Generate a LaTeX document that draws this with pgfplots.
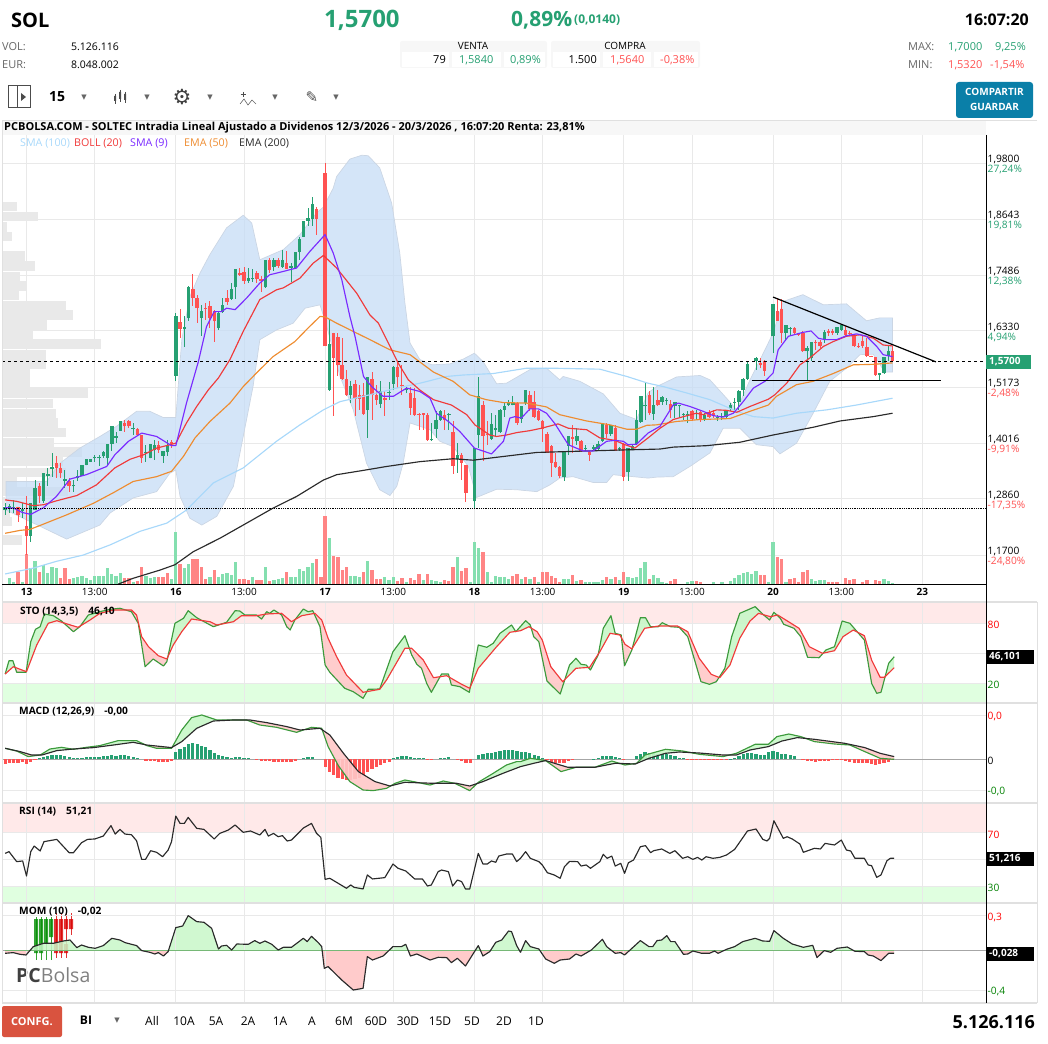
\documentclass[border=0pt]{standalone}
\usepackage{fontspec}
\setmainfont{Open Sans}
\newfontfamily\sym{DejaVu Sans}
\usepackage{pgfplots}
\usepackage{pgfplotstable}
\pgfplotsset{compat=1.18}
\definecolor{cg}{HTML}{26A072}
\definecolor{cr}{HTML}{FF5252}
\definecolor{vg}{HTML}{84DFAF}
\definecolor{vr}{HTML}{FF8585}
\definecolor{gridc}{HTML}{E9E9E9}
\definecolor{band}{HTML}{C6DCF6}
\definecolor{bandl}{HTML}{CBD6E4}
\definecolor{prof}{HTML}{E9E9E9}
\definecolor{sma100}{HTML}{A8D8FA}
\definecolor{boll}{HTML}{F03A3A}
\definecolor{sma9}{HTML}{7A2BFF}
\definecolor{ema50}{HTML}{EE8C30}
\definecolor{ema200}{HTML}{2A2A2A}
\definecolor{pinkz}{HTML}{FFE9E9}
\definecolor{greenz}{HTML}{E0FFE0}
\definecolor{gf}{HTML}{C8F7C8}
\definecolor{rf}{HTML}{FFC8C8}
\definecolor{kline}{HTML}{3C9A3C}
\definecolor{gtxt}{HTML}{666666}
\definecolor{sep}{HTML}{E0E0E0}
\definecolor{btn}{HTML}{0A7FA8}
\definecolor{conf}{HTML}{D9533F}
\newcommand\T[6][west]{\node[anchor=#1,inner sep=0pt,text=#4] at (#2pt,-#3pt) {\fontsize{#5}{#5}\selectfont #6};}
\newcommand\pg[1]{\addplot[fill=gf,draw=none,fill opacity=.9,forget plot] coordinates {#1} --cycle;}
\newcommand\pr[1]{\addplot[fill=rf,draw=none,fill opacity=.9,forget plot] coordinates {#1} --cycle;}
\pgfplotsset{
 xfit/.style={scale only axis,width=984pt,xmin=-5.743,xmax=224.92},
 hid/.style={xfit,hide axis},
 panel/.style={xfit,axis line style={draw=none},major tick length=0pt,grid=major,
  grid style={line width=.9pt,color=gridc},
  xtick={0,16,35,51,70,86,105,121,140,156,175,191,210},
  ytick pos=right,yticklabel pos=right,
  yticklabel style={anchor=west,align=left,inner sep=0pt,xshift=1.5pt,yshift=-1.5pt,font=\fontsize{10.2}{10.2}\selectfont},
  xticklabel style={inner sep=0pt,yshift=-4pt,font=\fontsize{10}{10}\selectfont}},
 l/.style={line width=1.15pt,line join=round},
 bars/.style={only marks,mark size=0pt,mark options={draw=none,fill=none},forget plot},
}
\pgfplotstableread{
i h l o c
-5 1.277 1.253 1.263 1.270
-4 1.276 1.256 1.265 1.272
-3 1.284 1.256 1.267 1.269
-1 1.277 1.246 1.262 1.265
1 1.277 1.196 1.210 1.277
2 1.325 1.263 1.263 1.308
4 1.339 1.277 1.281 1.339
5 1.350 1.312 1.334 1.338
6 1.381 1.332 1.348 1.351
9 1.346 1.308 1.324 1.327
11 1.325 1.301 1.312 1.314
12 1.346 1.322 1.329 1.334
13 1.356 1.334 1.334 1.356
14 1.368 1.356 1.356 1.368
15 1.369 1.363 1.363 1.369
16 1.377 1.363 1.370 1.372
17 1.377 1.353 1.370 1.372
18 1.384 1.370 1.374 1.382
19 1.400 1.353 1.370 1.400
20 1.437 1.384 1.400 1.437
21 1.425 1.401 1.412 1.415
22 1.447 1.427 1.427 1.447
25 1.443 1.418 1.430 1.432
28 1.398 1.363 1.381 1.383
29 1.400 1.370 1.370 1.400
30 1.408 1.367 1.387 1.398
32 1.385 1.360 1.375 1.385
33 1.408 1.374 1.382 1.398
35 1.670 1.529 1.540 1.664
37 1.663 1.600 1.638 1.641
38 1.725 1.653 1.660 1.724
41 1.687 1.622 1.660 1.675
45 1.673 1.635 1.639 1.671
46 1.701 1.670 1.673 1.687
48 1.732 1.698 1.700 1.720
49 1.762 1.700 1.723 1.762
52 1.763 1.732 1.737 1.743
53 1.760 1.735 1.740 1.742
56 1.780 1.722 1.723 1.780
58 1.784 1.756 1.765 1.780
60 1.801 1.763 1.765 1.780
62 1.773 1.735 1.764 1.768
63 1.797 1.760 1.763 1.797
64 1.828 1.780 1.796 1.822
65 1.861 1.828 1.828 1.861
66 1.887 1.849 1.861 1.867
67 1.910 1.849 1.865 1.896
71 1.656 1.510 1.512 1.607
76 1.529 1.484 1.501 1.520
80 1.537 1.412 1.470 1.537
83 1.529 1.474 1.482 1.508
85 1.527 1.491 1.505 1.507
86 1.560 1.511 1.524 1.558
89 1.518 1.505 1.510 1.513
95 1.443 1.405 1.407 1.410
96 1.467 1.412 1.431 1.450
97 1.470 1.446 1.450 1.468
99 1.463 1.429 1.459 1.462
101 1.401 1.339 1.369 1.377
105 1.391 1.268 1.281 1.391
106 1.538 1.391 1.419 1.499
109 1.463 1.408 1.410 1.441
110 1.460 1.415 1.429 1.432
111 1.472 1.422 1.425 1.470
112 1.484 1.456 1.470 1.478
113 1.490 1.477 1.480 1.486
114 1.499 1.479 1.479 1.484
116 1.477 1.443 1.451 1.477
117 1.511 1.481 1.484 1.511
126 1.385 1.322 1.332 1.385
127 1.416 1.377 1.396 1.416
129 1.432 1.398 1.405 1.416
131 1.398 1.384 1.390 1.392
133 1.398 1.384 1.389 1.394
134 1.405 1.387 1.390 1.400
135 1.443 1.403 1.406 1.441
137 1.439 1.415 1.421 1.438
139 1.394 1.384 1.390 1.392
141 1.391 1.324 1.341 1.391
142 1.398 1.387 1.387 1.396
143 1.470 1.398 1.399 1.450
144 1.499 1.443 1.445 1.499
145 1.527 1.450 1.477 1.480
147 1.518 1.450 1.462 1.480
149 1.499 1.480 1.487 1.496
150 1.494 1.480 1.489 1.491
152 1.487 1.453 1.478 1.486
153 1.480 1.453 1.477 1.479
154 1.463 1.450 1.460 1.462
155 1.467 1.443 1.459 1.462
157 1.470 1.450 1.462 1.464
159 1.463 1.446 1.451 1.460
162 1.460 1.447 1.453 1.455
163 1.463 1.450 1.456 1.458
164 1.470 1.453 1.456 1.469
165 1.485 1.467 1.471 1.480
166 1.494 1.470 1.485 1.487
167 1.511 1.470 1.487 1.509
168 1.536 1.498 1.511 1.534
169 1.570 1.532 1.534 1.565
171 1.580 1.553 1.571 1.578
175 1.689 1.587 1.622 1.689
178 1.646 1.615 1.629 1.646
179 1.641 1.622 1.638 1.640
183 1.601 1.531 1.591 1.598
184 1.611 1.570 1.577 1.611
187 1.635 1.608 1.615 1.631
190 1.642 1.625 1.629 1.642
191 1.648 1.632 1.635 1.646
200 1.547 1.532 1.542 1.546
201 1.579 1.545 1.546 1.579
202 1.601 1.570 1.582 1.592
}\up
\pgfplotstableread{
i h l o c
-2 1.270 1.239 1.270 1.253
0 1.291 1.170 1.230 1.210
3 1.319 1.277 1.313 1.291
7 1.374 1.329 1.360 1.350
8 1.360 1.329 1.350 1.339
10 1.329 1.301 1.322 1.312
23 1.450 1.425 1.443 1.436
24 1.450 1.432 1.446 1.436
26 1.432 1.418 1.430 1.418
27 1.418 1.361 1.418 1.370
31 1.405 1.380 1.398 1.387
34 1.408 1.391 1.403 1.399
36 1.678 1.618 1.651 1.638
39 1.751 1.684 1.720 1.702
40 1.708 1.649 1.702 1.680
42 1.691 1.656 1.681 1.679
43 1.694 1.639 1.685 1.660
44 1.677 1.611 1.675 1.653
47 1.718 1.687 1.702 1.693
50 1.763 1.746 1.752 1.749
51 1.766 1.729 1.755 1.737
54 1.756 1.732 1.752 1.741
55 1.746 1.713 1.740 1.737
57 1.784 1.753 1.780 1.758
59 1.784 1.763 1.780 1.768
61 1.799 1.760 1.773 1.762
68 1.889 1.832 1.884 1.865
70 1.980 1.601 1.959 1.601
72 1.629 1.458 1.629 1.578
73 1.629 1.540 1.620 1.562
74 1.618 1.532 1.563 1.534
75 1.553 1.498 1.534 1.501
77 1.532 1.458 1.523 1.493
78 1.522 1.470 1.501 1.492
79 1.525 1.460 1.501 1.462
81 1.548 1.450 1.534 1.501
82 1.522 1.480 1.501 1.491
84 1.508 1.458 1.494 1.490
87 1.567 1.515 1.558 1.537
88 1.563 1.501 1.521 1.519
90 1.518 1.460 1.505 1.474
91 1.515 1.458 1.494 1.460
92 1.463 1.429 1.462 1.460
93 1.463 1.429 1.463 1.460
94 1.463 1.405 1.460 1.407
98 1.470 1.429 1.460 1.450
100 1.446 1.337 1.425 1.355
102 1.381 1.325 1.377 1.361
103 1.356 1.279 1.356 1.299
107 1.489 1.365 1.480 1.416
108 1.446 1.398 1.421 1.418
115 1.487 1.439 1.484 1.443
118 1.508 1.467 1.501 1.472
119 1.508 1.453 1.487 1.456
120 1.470 1.446 1.468 1.450
121 1.450 1.403 1.447 1.430
122 1.425 1.381 1.420 1.381
123 1.398 1.332 1.396 1.361
124 1.381 1.350 1.363 1.352
125 1.353 1.329 1.352 1.334
128 1.439 1.381 1.414 1.410
130 1.408 1.382 1.406 1.384
132 1.384 1.365 1.383 1.377
136 1.443 1.412 1.439 1.420
138 1.439 1.384 1.432 1.385
140 1.401 1.322 1.400 1.332
146 1.508 1.460 1.501 1.463
148 1.511 1.477 1.491 1.480
151 1.491 1.453 1.482 1.470
156 1.470 1.446 1.468 1.451
158 1.469 1.445 1.465 1.450
160 1.470 1.453 1.465 1.456
161 1.470 1.453 1.463 1.458
172 1.577 1.556 1.567 1.562
173 1.572 1.539 1.571 1.551
176 1.701 1.653 1.675 1.654
177 1.698 1.608 1.679 1.629
180 1.641 1.625 1.639 1.629
181 1.629 1.622 1.629 1.625
182 1.632 1.589 1.629 1.591
185 1.615 1.594 1.611 1.608
186 1.615 1.598 1.611 1.601
188 1.637 1.622 1.632 1.629
189 1.637 1.625 1.632 1.629
192 1.644 1.622 1.635 1.625
193 1.632 1.622 1.629 1.627
194 1.625 1.600 1.624 1.601
195 1.608 1.598 1.602 1.600
196 1.622 1.598 1.613 1.602
197 1.618 1.580 1.600 1.582
198 1.582 1.579 1.582 1.580
199 1.579 1.540 1.579 1.542
203 1.601 1.571 1.592 1.571
}\dn
\pgfplotstableread[row sep=crcr]{
i v\\-5 -.03\\-3.1 -.023\\-1.5 -.04\\-.1 -.047\\1.6 .037\\4 .07\\6.3 .07\\8.6 .093\\10.2 .103\\11.8 .027\\12.9 .053\\14.5 .03\\16.1 .02\\18 .047\\20 .12\\21.9 .103\\23.1 .077\\25.8 .047\\27 -.003\\28.9 -.02\\30.1 -.037\\30.9 -.023\\32.1 -.057\\33.2 -.013\\35 .227\\36.6 .243\\37.9 .347\\39.9 .287\\41.6 .28\\43.4 .22\\45 .013\\45.7 .043\\46.9 .05\\48.1 .003\\49.3 .063\\52 .06\\53.5 .097\\54.7 .07\\55.9 .093\\57.5 .06\\59 .003\\60.2 .03\\62.1 .03\\64.9 .12\\65.8 .087\\66.8 .14\\68.4 .077\\69.2 .037\\69.8 -.18\\70.7 -.163\\73.9 -.297\\76.6 -.397\\78.9 -.38\\79.9 -.063\\81.1 -.097\\83.6 -.057\\85.9 .037\\87.9 .037\\88.9 .06\\90 -.057\\91.5 -.037\\94.6 -.097\\96.5 -.07\\98.5 -.073\\99.6 -.123\\101 -.08\\102.9 -.157\\105.9 .047\\107 -.057\\108.6 -.013\\110 .08\\111.4 .103\\113 .193\\113.7 .187\\114.9 .047\\115.8 -.02\\117 .097\\118.1 .037\\120.1 .013\\121.7 -.087\\123.7 -.13\\125.1 -.097\\127.3 -.087\\128.8 -.037\\130 -.057\\132.4 .003\\135 .11\\136 .037\\138 -.03\\139.3 -.023\\140.2 -.047\\143.9 .097\\145.9 .037\\146.8 .037\\147.8 .097\\148.9 .103\\150.1 .147\\151 .087\\152 .087\\154 -.04\\155 -.037\\156.2 -.007\\158.3 -.03\\160.1 -.03\\161.3 -.007\\162.1 -.03\\164.1 .01\\166 .037\\167.9 .087\\170.8 .12\\172.6 .093\\174.2 .09\\175.2 .197\\177.4 .12\\179.5 .063\\182.1 .03\\184.3 .05\\185.3 -.073\\187 -.003\\188.5 -.02\\190 .02\\192.4 .033\\194.2 -.01\\196.4 -.013\\197.3 -.047\\198.5 -.057\\200.3 -.103\\202.1 -.03\\203.4 -.03\\
}\mom
\begin{document}
\begin{tikzpicture}
\useasboundingbox (0,0) rectangle (1048pt,-1043pt);
% ---- header
\T{11}{20}{black}{20}{\textbf{SOL}}
\T{324}{20}{cg}{24}{\textbf{1,5700}}
\T{511}{20}{cg}{21}{\textbf{0,89\%}}
\T{574}{20}{cg}{12}{\textbf{(0,0140)}}
\T[east]{1029}{20}{black}{16}{\textbf{16:07:20}}
\T{2}{47}{gtxt}{11}{VOL:}
\T{2}{65}{gtxt}{11}{EUR:}
\T[east]{119}{47}{black}{10.5}{5.126.116}
\T[east]{119}{65}{black}{10.5}{8.048.002}
\fill[black!3,rounded corners=2pt] (400pt,-41pt) rectangle (547pt,-68pt);
\fill[black!3,rounded corners=2pt] (551pt,-41pt) rectangle (700pt,-68pt);
\fill[white] (402pt,-52pt) rectangle (449pt,-67pt);
\fill[white] (452pt,-52pt) rectangle (501pt,-67pt);
\fill[white] (504pt,-52pt) rectangle (545pt,-67pt);
\fill[white] (553pt,-52pt) rectangle (600pt,-67pt);
\fill[white] (603pt,-52pt) rectangle (651pt,-67pt);
\fill[white] (654pt,-52pt) rectangle (698pt,-67pt);
\T[center]{473}{46}{black}{10}{VENTA}
\T[center]{625}{46}{black}{10}{COMPRA}
\T[east]{446}{60}{black}{11}{79}
\T{459}{60}{cg}{11}{1,5840}
\T{510}{60}{cg}{11}{0,89\%}
\T[east]{597}{60}{black}{11}{1.500}
\T{610}{60}{cr}{11}{1,5640}
\T{660}{60}{cr}{11}{-0,38\%}
\T{908}{47}{gtxt}{11}{MAX:}
\T{908}{65}{gtxt}{11}{MIN:}
\T{948}{47}{cg}{11}{1,7000}
\T{995}{47}{cg}{11}{9,25\%}
\T{948}{65}{cr}{11}{1,5320}
\T{990}{65}{cr}{11}{-1,54\%}
% ---- toolbar
\draw[black!70,line width=1pt] (8pt,-86pt) rectangle (30pt,-108pt);
\draw[black!70,line width=1pt] (17pt,-86pt) -- (17pt,-108pt);
\fill[black!70] (21pt,-93pt) -- (26pt,-97pt) -- (21pt,-101pt) -- cycle;
\T{49}{97}{black}{14}{\textbf{15}}
\foreach \a in {84,147,210,275,336} {\T[center]{\a}{98}{black!60}{7}{\sym ▼}}
\draw[black!70,line width=.8pt] (115pt,-94pt)--(115pt,-104pt) (120pt,-90pt)--(120pt,-102pt) (125pt,-92pt)--(125pt,-103pt);
\fill[black!70] (114pt,-96pt) rectangle (116pt,-101pt) (119pt,-92pt) rectangle (121pt,-99pt) (124pt,-94pt) rectangle (126pt,-100pt);
\T[center]{182}{97}{black!75}{21}{\sym ⚙}
\draw[black!70,line width=.7pt] (243pt,-92pt)--(243pt,-97pt) (240.5pt,-94.5pt)--(245.5pt,-94.5pt);
\draw[black!60,line width=.6pt] (240pt,-104pt)--(244pt,-99pt)--(248pt,-105pt)--(252pt,-100pt)--(256pt,-104pt);
\T[center]{312}{97}{black!70}{15}{\sym ✎}
\fill[btn,rounded corners=3pt] (956pt,-82pt) rectangle (1033pt,-118pt);
\T[center]{994.5}{92}{white}{10}{\textbf{COMPARTIR}}
\T[center]{994.5}{107}{white}{10}{\textbf{GUARDAR}}
% ---- title bar
\fill[black!3] (2pt,-120pt) rectangle (986pt,-135pt);
\draw[black!12,line width=.8pt] (2pt,-120pt) -- (1037pt,-120pt);
\T{4}{127.5}{black}{11}{\textbf{PCBOLSA.COM - SOLTEC Intradia Lineal Ajustado a Dividenos 12/3/2026 - 20/3/2026 , 16:07:20 Renta: 23,81\%}}
\T{20}{143}{sma100}{10.7}{SMA (100)}
\T{74}{143}{boll}{10.7}{BOLL (20)}
\T{130}{143}{sma9}{10.7}{SMA (9)}
\T{184}{143}{ema50}{10.7}{EMA (50)}
\T{239}{143}{ema200}{10.7}{EMA (200)}
% ---- main grid and tick labels
\begin{axis}[panel,at={(2pt,-584pt)},anchor=south west,height=449pt,ymin=1.1102,ymax=2.0378,
 xticklabels={\textbf{13},13:00,\textbf{16},13:00,\textbf{17},13:00,\textbf{18},13:00,\textbf{19},13:00,\textbf{20},13:00,\textbf{23}},
 ytick={1.98,1.8643,1.7486,1.633,1.5173,1.4016,1.286,1.17},
 yticklabels={{1,9800\\\textcolor{cg}{27,24\%}},{1,8643\\\textcolor{cg}{19,81\%}},{1,7486\\\textcolor{cg}{12,38\%}},{1,6330\\\textcolor{cg}{4,94\%}},{1,5173\\\textcolor{cr}{-2,48\%}},{1,4016\\\textcolor{cr}{-9,91\%}},{1,2860\\\textcolor{cr}{-17,35\%}},{1,1700\\\textcolor{cr}{-24,80\%}}}]
\addplot[draw=none] coordinates {(0,1.5)};
\end{axis}
% ---- volume profile
\begin{axis}[hid,xmin=6,xmax=2958,at={(2pt,-584pt)},anchor=south west,height=449pt,ymin=1.1102,ymax=2.0378]
\addplot[xcomb,line width=9.3pt,color=prof] coordinates {(50,1.890)(115,1.869)(20,1.848)(36,1.828)(75,1.788)(105,1.767)(60,1.746)(80,1.726)(58,1.706)(197,1.686)(218,1.666)(142,1.645)(100,1.625)(302,1.606)(138,1.585)(138,1.565)(90,1.544)(90,1.524)(263,1.505)(160,1.483)(168,1.463)(173,1.443)(197,1.423)(163,1.403)(245,1.383)(190,1.363)(197,1.341)(50,1.321)(205,1.301)(15,1.280)(30,1.259)(37,1.239)(65,1.201)};
\end{axis}
% ---- volume
\begin{axis}[hid,at={(2pt,-584pt)},anchor=south west,height=449pt,ymin=0,ymax=1347]
\addplot[ycomb,line width=3.3pt,color=vg] coordinates {(-4,17)(-3,7)(-1,7)(1,47)(2,70)(4,57)(5,34)(6,52)(7,47)(11,17)(12,20)(13,25)(14,19)(15,13)(16,25)(17,25)(18,25)(19,49)(20,29)(21,25)(22,32)(25,7)(28,25)(29,17)(30,20)(34,14)(35,157)(37,47)(38,60)(43,22)(45,22)(46,30)(47,32)(48,26)(49,65)(53,22)(56,50)(58,13)(59,15)(60,17)(62,22)(63,20)(64,44)(65,40)(66,50)(67,62)(71,137)(76,25)(77,24)(78,20)(80,68)(84,22)(85,11)(86,20)(89,7)(93,12)(95,12)(96,9)(97,7)(101,80)(104,7)(105,125)(106,107)(108,35)(109,7)(110,25)(111,20)(112,22)(113,14)(116,14)(118,14)(120,7)(126,14)(127,16)(129,9)(131,5)(132,5)(133,5)(134,5)(135,13)(137,16)(139,11)(141,20)(142,18)(143,20)(144,47)(145,65)(147,27)(148,18)(149,7)(150,4)(155,7)(156,8)(161,7)(163,7)(165,10)(166,17)(167,27)(168,32)(169,35)(170,30)(171,38)(174,7)(175,127)(178,7)(184,16)(185,10)(186,11)(187,11)(201,14)(202,9)(203,2)};
\addplot[ycomb,line width=3.3pt,color=vr] coordinates {(-2,37)(0,89)(3,35)(8,19)(9,47)(10,14)(23,17)(24,19)(26,10)(27,50)(31,20)(32,22)(33,32)(36,59)(39,76)(40,76)(41,52)(42,14)(44,42)(50,16)(51,14)(52,12)(54,11)(55,11)(57,10)(61,37)(68,74)(69,20)(70,204)(72,84)(73,80)(74,42)(75,50)(79,37)(81,42)(82,14)(83,14)(87,10)(88,17)(90,17)(91,11)(92,30)(94,30)(98,13)(99,9)(100,50)(102,40)(103,47)(107,95)(114,24)(115,30)(117,20)(119,22)(121,35)(122,35)(123,25)(124,17)(125,7)(128,27)(130,11)(136,22)(138,22)(140,35)(146,14)(151,10)(152,14)(157,10)(158,7)(172,27)(173,27)(176,82)(177,74)(179,14)(180,19)(181,7)(182,37)(183,41)(188,5)(189,7)(190,7)(192,17)(193,12)(194,14)(196,7)(197,11)(199,11)(200,9)};
\end{axis}
% ---- price: bands, candles, averages
\begin{axis}[hid,at={(2pt,-584pt)},anchor=south west,height=449pt,ymin=1.1102,ymax=2.0378]
\addplot[fill=band,draw=bandl,line width=.7pt,fill opacity=.75] coordinates {(-4.8,1.322)(4.7,1.322)(7.9,1.360)(12.5,1.391)(17.2,1.415)(21.1,1.436)(25.8,1.467)(28.9,1.467)(32.1,1.454)(35,1.454)(36.4,1.615)(38.3,1.704)(40.7,1.753)(43,1.791)(46.9,1.846)(50.8,1.872)(52.8,1.856)(54.7,1.780)(60.2,1.801)(64.1,1.832)(68,1.877)(69.6,1.889)(71.9,1.928)(72.7,1.952)(75.8,1.988)(78.6,1.996)(80.1,1.995)(82.8,1.970)(85.6,1.897)(87.5,1.794)(88.7,1.691)(89.9,1.608)(92.2,1.574)(95,1.563)(99.3,1.565)(102.4,1.575)(105,1.587)(107,1.570)(110.2,1.524)(112.5,1.525)(118,1.553)(121.9,1.556)(125,1.532)(125.8,1.539)(129.7,1.529)(135.2,1.503)(139.1,1.463)(143,1.450)(145.7,1.505)(147.7,1.518)(152.4,1.538)(157.9,1.541)(160.2,1.532)(164.1,1.494)(166.5,1.470)(169.6,1.532)(173.5,1.601)(175,1.629)(177.4,1.694)(182,1.708)(186.8,1.687)(192.2,1.689)(196.9,1.654)(200,1.660)(203,1.660)(203,1.548)(201.2,1.548)(198.5,1.585)(195.4,1.584)(192.2,1.556)(188.3,1.529)(184.4,1.463)(180.5,1.401)(176.6,1.379)(175,1.394)(171.1,1.398)(167.2,1.432)(163.3,1.432)(160.2,1.381)(155.5,1.353)(151.6,1.332)(147.7,1.331)(145.7,1.329)(137.5,1.336)(136,1.320)(132.8,1.320)(128.1,1.332)(125,1.329)(122.7,1.315)(119.6,1.301)(114.9,1.305)(110.2,1.306)(105.5,1.289)(103.6,1.353)(100,1.394)(96.9,1.405)(94.6,1.429)(89.9,1.443)(88.3,1.360)(86.8,1.312)(85.2,1.293)(82.8,1.305)(79.7,1.360)(76.6,1.470)(73.5,1.539)(70.4,1.642)(68.8,1.687)(65.3,1.680)(62.5,1.649)(58.6,1.635)(54.7,1.615)(53.1,1.518)(50.8,1.415)(48.5,1.312)(44.6,1.250)(41.1,1.232)(38.3,1.246)(36,1.291)(35,1.346)(33.6,1.339)(30.5,1.301)(25,1.288)(19.6,1.257)(17.2,1.232)(9.4,1.203)(4,1.226)(-4.8,1.263)} --cycle;
% wicks and bodies
\addplot[bars,error bars/.cd,y dir=both,y explicit,error mark=none,error bar style={line width=.9pt,color=cg}] table[x=i,y=o,y error plus expr=\thisrow{h}-\thisrow{o},y error minus expr=\thisrow{o}-\thisrow{l}] {\up};
\addplot[bars,error bars/.cd,y dir=both,y explicit,error mark=none,error bar style={line width=.9pt,color=cr}] table[x=i,y=o,y error plus expr=\thisrow{h}-\thisrow{o},y error minus expr=\thisrow{o}-\thisrow{l}] {\dn};
\addplot[bars,error bars/.cd,y dir=plus,y explicit,error mark=none,error bar style={line width=3.4pt,color=cg}] table[x=i,y=o,y error plus expr=\thisrow{c}-\thisrow{o},y error minus expr=0] {\up};
\addplot[bars,error bars/.cd,y dir=plus,y explicit,error mark=none,error bar style={line width=3.4pt,color=cr}] table[x=i,y=c,y error plus expr=\thisrow{o}-\thisrow{c},y error minus expr=0] {\dn};
% averages
\addplot[l,color=sma100] coordinates {(-5,1.131)(1.6,1.143)(7,1.157)(13.3,1.170)(19.6,1.191)(26.6,1.219)(32.9,1.236)(37.5,1.263)(43.8,1.319)(50.8,1.350)(58.6,1.405)(64.1,1.439)(69.6,1.470)(73.5,1.487)(79,1.498)(86.8,1.515)(92.2,1.525)(98.5,1.539)(102.4,1.542)(109.4,1.545)(117.2,1.556)(123.5,1.556)(134.4,1.554)(140.7,1.539)(145.7,1.525)(149.3,1.518)(154.7,1.505)(160.2,1.491)(166.5,1.467)(170.4,1.456)(175,1.453)(180.5,1.463)(187.6,1.470)(194.6,1.480)(203,1.494)};
\addplot[l,color=ema200] coordinates {(21.5,1.110)(25,1.122)(31.3,1.139)(34.8,1.150)(39.1,1.177)(45.4,1.205)(50.8,1.232)(57.8,1.267)(63.3,1.291)(69.6,1.325)(72.7,1.336)(79,1.345)(84.4,1.353)(92.2,1.363)(100,1.369)(104.7,1.366)(110.2,1.372)(119.6,1.382)(127.4,1.384)(139.1,1.387)(148.5,1.389)(151.6,1.393)(159.4,1.396)(167.2,1.403)(175,1.418)(184.4,1.434)(190.7,1.447)(198.5,1.456)(203,1.463)};
\addplot[l,color=ema50] coordinates {(-5,1.215)(-1.5,1.221)(0.8,1.223)(4,1.234)(9.4,1.253)(15.7,1.277)(20.4,1.299)(25,1.322)(30.5,1.332)(34,1.343)(36.8,1.374)(39.5,1.412)(43,1.446)(47.7,1.484)(50.8,1.518)(53.9,1.546)(57.8,1.580)(62.9,1.611)(66,1.639)(68.8,1.663)(70,1.662)(72.7,1.649)(76.6,1.632)(80.5,1.615)(85.2,1.594)(89.9,1.584)(95.4,1.548)(100,1.529)(103.9,1.501)(107.8,1.491)(111.8,1.485)(117.2,1.484)(121.9,1.476)(125,1.460)(131.3,1.447)(136.8,1.439)(140.7,1.430)(143,1.430)(145.4,1.438)(147.7,1.439)(152.4,1.446)(157.9,1.450)(164.9,1.452)(169.6,1.467)(173.9,1.480)(175.8,1.498)(180.5,1.522)(184.4,1.529)(189.1,1.545)(193.8,1.563)(198.5,1.564)(203,1.567)};
\addplot[l,color=boll] coordinates {(-5,1.284)(-2.3,1.281)(1.6,1.272)(4,1.274)(7,1.282)(11.8,1.293)(16.4,1.315)(20.7,1.350)(24.3,1.368)(27.4,1.377)(30.5,1.391)(35,1.401)(37.5,1.443)(39.9,1.477)(42.6,1.511)(45,1.536)(47.7,1.574)(50.8,1.632)(54.7,1.698)(58.6,1.718)(60.2,1.722)(64.1,1.742)(67.2,1.773)(69.6,1.789)(72.7,1.763)(77.4,1.711)(80.5,1.666)(82.5,1.649)(85.6,1.594)(87.1,1.567)(89.5,1.532)(92.2,1.511)(95.4,1.491)(99.6,1.480)(103.2,1.460)(105.1,1.439)(108.6,1.418)(110.2,1.415)(112.5,1.418)(114.9,1.423)(118,1.427)(120.7,1.432)(124.6,1.441)(127,1.432)(131.3,1.429)(134.4,1.412)(137.9,1.407)(140.3,1.398)(142.6,1.391)(145.7,1.412)(148.5,1.432)(151.6,1.450)(154,1.456)(157,1.463)(158.6,1.460)(161.8,1.470)(164.1,1.469)(166.5,1.465)(169.6,1.477)(173.9,1.492)(175.4,1.501)(178.2,1.525)(181.3,1.563)(183.6,1.577)(186.8,1.601)(189.1,1.611)(192.2,1.622)(195.4,1.625)(198.5,1.618)(200.8,1.604)(203,1.602)};
\addplot[l,color=sma9] coordinates {(-5,1.268)(-3,1.267)(-1,1.258)(1,1.254)(4,1.268)(7,1.291)(10.2,1.327)(14,1.336)(18.8,1.353)(20.7,1.377)(23.9,1.405)(27,1.422)(30.5,1.415)(34,1.396)(35,1.396)(37.5,1.484)(40.3,1.570)(42.2,1.642)(44,1.673)(45.7,1.673)(46.9,1.680)(48.9,1.677)(51.6,1.701)(54.7,1.732)(57,1.749)(60.2,1.756)(63.3,1.763)(66.4,1.797)(70,1.832)(71.9,1.794)(73.9,1.739)(75.8,1.663)(77,1.622)(79,1.539)(80.9,1.518)(83.6,1.498)(86,1.498)(89.1,1.515)(92.2,1.508)(94.6,1.494)(96.1,1.463)(98.9,1.446)(101.6,1.425)(105,1.391)(107,1.385)(109,1.379)(111.8,1.405)(113.3,1.453)(114.5,1.456)(116,1.453)(118,1.472)(120,1.472)(121.9,1.463)(123.9,1.441)(127,1.398)(130.5,1.385)(132.8,1.385)(136,1.405)(137.9,1.407)(139.9,1.405)(141,1.398)(143,1.399)(145.7,1.422)(148.5,1.436)(151.6,1.480)(152.8,1.484)(155.5,1.477)(158.6,1.467)(161,1.458)(163.3,1.455)(165.7,1.463)(168,1.487)(170.4,1.515)(173.1,1.529)(175,1.546)(176.2,1.594)(178.6,1.622)(182,1.630)(183.9,1.633)(185.6,1.618)(187.2,1.615)(189.9,1.615)(192.2,1.623)(194.6,1.627)(196.9,1.622)(199.3,1.601)(200.8,1.584)(203,1.580)};
% levels and trend lines
\addplot[black,line width=.8pt,dashed] coordinates {(-5.7,1.57)(224.9,1.57)};
\addplot[black,line width=.8pt,densely dotted] coordinates {(-5.7,1.267)(224.9,1.267)};
\addplot[black,line width=1.2pt] coordinates {(175,1.703)(213.2,1.569)};
\addplot[black,line width=1pt] coordinates {(170,1.531)(214.3,1.531)};
\end{axis}
% ---- panel backgrounds
\fill[pinkz] (2pt,-603pt) rectangle (986pt,-623pt);
\fill[greenz] (2pt,-683pt) rectangle (986pt,-702pt);
\fill[pinkz] (2pt,-804pt) rectangle (986pt,-833pt);
\fill[greenz] (2pt,-887pt) rectangle (986pt,-902pt);
% ---- STO
\begin{axis}[panel,at={(2pt,-702pt)},anchor=south west,height=99pt,ymin=1,ymax=100,xticklabels={},
 ytick={80,50,20},yticklabels={\textcolor{red}{80},{},\textcolor{green!50!black}{20}}]
\pg{(-5,29)(-4.1,42.3)(-3.2,42.3)(-2.65,35.4)(-3.1,36.3)}
\pr{(-2.65,35.4)(-2.3,30.7)(-.1,30.7)(0,31.3)}
\pg{(0,31.3)(1,61.3)(2.1,73.7)(3.2,76.3)(4.2,89)(6.3,87.3)(8.2,82)(8.7,80)(7.1,82.3)(5.1,79.7)(2.4,58)}
\pr{(8.7,80)(11,71.3)(12.4,76)(12.1,75.7)(9,79.7)}
\pg{(12.6,77)(14.5,88)(17.2,91.3)(19.6,93.7)(21.9,94.7)(23.2,93)(20.4,93)(17.2,89.7)(14.9,83)}
\pr{(23.2,93)(24.6,91.3)(26.2,79.7)(27,58)(27.8,36.3)(29.7,44)(32.1,37)(32.9,41.3)(33.15,46.3)(32.9,44)(30.9,47.3)(28.6,56.3)(27,66.3)(25.8,88)(24.6,93)}
\pg{(33.15,46.3)(34.8,79.7)(36.8,84.7)(37.9,92.3)(39.9,85.3)(40.6,83.7)(38.7,84)(36.4,71.3)(34.4,58)}
\pr{(40.6,83.7)(43.8,76.3)(45.7,79)(44.6,78)(43,81.3)}
\pg{(45.7,79)(46.9,80.7)(48.9,92.3)(50,92)(51.2,88)(53.9,88)(54.1,87.4)(53.9,87.3)(50.4,87.3)(48.5,81.3)}
\pr{(54.1,87.4)(55.1,84)(55.9,88.8)}
\pg{(55.9,88.8)(56.3,91.3)(57,89.7)(58,93)(59.3,89.5)(56.3,89)}
\pr{(59.3,89.5)(59.8,88)(61,76.3)(61.8,73)(62.9,83)(63,83.6)(62.1,81.3)(59.8,89.7)}
\pg{(63,83.6)(64.9,94)(66,91.3)(67.1,92.3)(67.4,89.6)(64.5,87.3)}
\pr{(67.4,89.6)(68.8,76.3)(70,38)(71.1,30.7)(74.6,14.7)(76.6,11.3)(78.9,4.7)(79,10.7)(75,28)(72.7,46.3)(70.7,64.7)(69.2,83)}
\pg{(79.2,10.7)(80.1,13.7)(82.8,14)(85.9,51.3)(88.7,67.3)(89.8,54.7)(88.7,54.7)(84.4,23)(82.8,13.7)}
\pr{(89.8,54.7)(90.3,48)(91.5,38.7)(92.6,34.7)(93.8,19.7)(94.9,10.7)(97,27)(95.4,25.3)(93,43)(90.3,54.7)}
\pg{(97,27)(97.3,29)(98.9,29)(99.1,25.9)(98.5,27.3)}
\pr{(99.1,25.9)(99.6,18)(101.6,16.3)(103.8,10.7)(104,15.5)(103.9,14.7)(102,18.7)}
\pg{(104,15.5)(105.9,58)(107.9,55.7)(109.4,59.7)(111,69.7)(113.7,78)(114.7,71.3)(117,82.3)(118.1,78)(118.3,75)(117.8,76.3)(115.8,72.3)(113.3,70.7)(110.2,56.3)(105.9,34.7)}
\pr{(118.3,75)(118.9,66.3)(120.1,61.3)(122,22)(125.1,9)(126.3,24)(125.7,21.3)(122.9,36.3)(120.9,63)(119.7,71.3)}
\pg{(126.3,24)(127.3,38)(128.8,44.7)(130,38.7)(131.2,38)(131.7,35.6)(128.8,34.7)}
\pr{(131.7,35.6)(132.2,33)(134.1,49.6)(132,35.7)}
\pg{(134.1,49.6)(135.2,74.7)(137,87.3)(138,69.7)(139.4,68)(139.5,64.5)(139.1,68)(136.8,69.7)(134.4,51.3)}
\pr{(139.5,64.5)(140.2,37.3)(141.7,52)(140.3,58.7)}
\pg{(141.7,52.5)(143.9,85.3)(145.1,85.3)(146.3,76.3)(148.1,76.3)(149,80.3)(150.6,77)(148.2,77)(144.9,74.7)(141.9,54)}
\pr{(150.6,77)(151,76.3)(153,75.7)(155,66.3)(158.1,21.3)(160.1,18.7)(161.7,21.3)(162.4,25.5)(160.5,28.7)(157.7,44.7)(155,71.3)(152.6,77)}
\pg{(162.4,25.5)(163.7,34.7)(165.3,66.3)(167.2,89.7)(170.8,96.3)(172.7,88.3)(171.6,89.7)(169.6,82)(167.2,64.7)(164.9,38)}
\pr{(172.7,88.3)(174.2,83)(174.7,86.6)(174.4,86.3)}
\pg{(174.7,86.6)(175.2,90.7)(175.9,87.9)}
\pr{(175.9,87.9)(176.7,84.7)(177.5,78.7)(179.9,74.7)(181.5,66.3)(183.1,45.7)(185.8,45.3)(186.7,49.8)(183.5,56.3)(181.1,74.7)(176.1,88)}
\pg{(186.7,49.8)(187.4,53)(189.4,56.3)(191.2,82)(193,79.7)(194.9,70.5)(193.8,73)(191.4,66.3)(189.4,52.3)}
\pr{(194.9,70.5)(196.4,63)(198.1,19.7)(199.3,9.7)(200.3,10.7)(201.35,27)(201.1,25.7)(200.1,25.7)(198.1,43)(196.4,67.3)}
\pg{(201.35,27)(202.1,39.7)(203.4,46.3)(203.4,35.3)}
\addplot[l,color=kline] coordinates {(-5,29)(-4.1,42.3)(-3.2,42.3)(-2.3,30.7)(-.1,30.7)(1,61.3)(2.1,73.7)(3.2,76.3)(4.2,89)(6.3,87.3)(8.2,82)(11,71.3)(12.5,76.3)(14.5,88)(17.2,91.3)(19.6,93.7)(21.9,94.7)(24.6,91.3)(26.2,79.7)(27,58)(27.8,36.3)(29.7,44)(32.1,37)(32.9,41.3)(34.8,79.7)(36.8,84.7)(37.9,92.3)(39.9,85.3)(43.8,76.3)(46.9,80.7)(48.9,92.3)(50,92)(51.2,88)(53.9,88)(55.1,84)(56.3,91.3)(57,89.7)(58,93)(59.8,88)(61,76.3)(61.8,73)(62.9,83)(64.9,94)(66,91.3)(67.1,92.3)(68.8,76.3)(70,38)(71.1,30.7)(74.6,14.7)(76.6,11.3)(78.9,4.7)(80.1,13.7)(82.8,14)(85.9,51.3)(88.7,67.3)(90.3,48)(91.5,38.7)(92.6,34.7)(93.8,19.7)(94.9,10.7)(97.3,29)(98.9,29)(99.6,18)(101.6,16.3)(103.8,10.7)(105.9,58)(107.9,55.7)(109.4,59.7)(111,69.7)(113.7,78)(114.7,71.3)(117,82.3)(118.1,78)(118.9,66.3)(120.1,61.3)(122,22)(125.1,9)(127.3,38)(128.8,44.7)(130,38.7)(131.2,38)(132.2,33)(134,48)(135.2,74.7)(137,87.3)(138,69.7)(139.4,68)(140.2,37.3)(141.9,53)(143.9,85.3)(145.1,85.3)(146.3,76.3)(148.1,76.3)(149,80.3)(151,76.3)(153,75.7)(155,66.3)(158.1,21.3)(160.1,18.7)(161.7,21.3)(163.7,34.7)(165.3,66.3)(167.2,89.7)(170.8,96.3)(172.8,88)(174.2,83)(175.2,90.7)(176.7,84.7)(177.5,78.7)(179.9,74.7)(181.5,66.3)(183.1,45.7)(185.8,45.3)(187.4,53)(189.4,56.3)(191.2,82)(193,79.7)(196.4,63)(198.1,19.7)(199.3,9.7)(200.3,10.7)(202.1,39.7)(203.4,46.3)};
\addplot[l,color=boll] coordinates {(-5,29)(-3.1,36.3)(0,31.3)(2.4,58)(5.1,79.7)(7.1,82.3)(9,79.7)(12.1,75.7)(14.9,83)(17.2,89.7)(20.4,93)(24.6,93)(25.8,88)(27,66.3)(28.6,56.3)(30.9,47.3)(32.9,44)(34.4,58)(36.4,71.3)(38.7,84)(43,81.3)(44.6,78)(48.5,81.3)(50.4,87.3)(53.9,87.3)(56.3,89)(59.8,89.7)(62.1,81.3)(64.5,87.3)(67.6,89.7)(69.2,83)(70.7,64.7)(72.7,46.3)(75,28)(78.9,10.7)(82.8,13.7)(84.4,23)(88.7,54.7)(90.3,54.7)(93,43)(95.4,25.3)(98.5,27.3)(102,18.7)(103.9,14.7)(105.9,34.7)(110.2,56.3)(113.3,70.7)(115.8,72.3)(117.8,76.3)(119.7,71.3)(120.9,63)(122.9,36.3)(125.7,21.3)(128.8,34.7)(132,35.7)(134.4,51.3)(136.8,69.7)(139.1,68)(140.3,58.7)(141.9,54)(144.9,74.7)(148.2,77)(152.6,77)(155,71.3)(157.7,44.7)(160.5,28.7)(162.5,25.3)(164.9,38)(167.2,64.7)(169.6,82)(171.6,89.7)(174.4,86.3)(176.1,88)(181.1,74.7)(183.5,56.3)(186.6,49.7)(189.4,52.3)(191.4,66.3)(193.8,73)(196.4,67.3)(198.1,43)(200.1,25.7)(201.1,25.7)(203.4,35.3)};
\end{axis}
% ---- MACD (values in thousandths)
\begin{axis}[panel,at={(2pt,-802pt)},anchor=south west,height=99pt,ymin=-42.7,ymax=56.3,xticklabels={},
 ytick={44.3,0,-30.7},yticklabels={\textcolor{red}{0,0},0,\textcolor{green!50!black}{-0,0}}]
\addplot[line width=1pt,color=black!35] coordinates {(-5.7,0)(224.9,0)};
\addplot[ycomb,line width=3.2pt,color=cg] coordinates {(3,1)(4,2.3)(5,3.7)(6,4.3)(7,4.3)(8,4)(9,3)(10,2)(11,1.3)(12,1.3)(13,1.3)(14,2.3)(15,2.3)(16,2.3)(17,2.3)(18,3)(19,3.7)(20,4.3)(21,3.7)(22,4.3)(23,4.3)(24,3.7)(25,2.3)(26,1.7)(35,7.7)(36,10.3)(37,12.7)(38,15.3)(39,16.7)(40,15.3)(41,13.7)(42,12)(43,9.3)(44,6)(45,4)(46,3)(47,2.3)(48,1.3)(49,2)(50,2.3)(51,1.7)(52,1)(65,1)(66,2)(67,2)(86,1)(87,2.7)(88,3.3)(89,3.3)(90,2)(91,1.3)(92,1)(93,1)(97,1.3)(98,1.7)(99,2)(106,4.3)(107,5.3)(108,6.3)(109,6.7)(110,7.7)(111,8.3)(112,9.3)(113,9.3)(114,9.3)(115,8.3)(116,7.7)(117,7.7)(118,6)(119,4.3)(120,3.3)(121,1.7)(133,.7)(134,1)(135,3)(136,3.3)(137,3.7)(138,2.3)(139,1.3)(143,3.3)(144,5)(145,7)(146,6.7)(147,6)(148,5.7)(149,5)(150,5)(151,4.3)(152,3.7)(153,1.7)(154,1)(165,.7)(166,1.3)(167,3.3)(168,5.3)(169,6)(170,6)(171,5)(172,4)(173,4.3)(174,7)(175,8.3)(176,7)(177,5.7)(178,5.7)(179,4)(180,3)};
\addplot[ycomb,line width=3.2pt,color=cr] coordinates {(-5,-4.7)(-4,-4)(-3,-3.3)(-2,-3.3)(-1,-2.3)(0,-4.7)(1,-2.3)(2,-1)(28,-1.3)(29,-2)(30,-2)(31,-2.3)(32,-2.3)(33,-2.3)(34,-1.7)(54,-1)(55,-1.7)(56,-1.7)(57,-1.3)(58,-2.3)(59,-2.3)(60,-3)(61,-3)(62,-2.7)(63,-1.7)(70,-7.3)(71,-12.3)(72,-15.7)(73,-18.3)(74,-19.7)(75,-20.7)(76,-20.7)(77,-19.7)(78,-18.3)(79,-15.7)(80,-12.3)(81,-9.7)(82,-7.3)(83,-5.7)(84,-4)(85,-3)(94,-.5)(95,-.7)(101,-.7)(102,-1.3)(103,-3.3)(104,-3.3)(122,-1)(123,-2.3)(124,-3.3)(125,-4)(126,-3.3)(127,-1.3)(128,-.7)(140,-.7)(155,-.7)(156,-.7)(157,-.7)(158,-.7)(159,-.7)(160,-.7)(161,-.7)(162,-.7)(163,-.7)(164,-.7)(182,-.7)(183,-1.3)(184,-1.7)(185,-2.3)(186,-1.7)(187,-1.3)(188,-1.3)(189,-.7)(190,-.7)(191,-.7)(192,-1.3)(193,-2.3)(194,-3.3)(195,-3.3)(196,-3.3)(197,-3.3)(198,-4.7)(199,-5.7)(200,-4.7)(201,-4)(202,-2.3)(203,-1)};
\pr{(-5,11)(-2.3,8.3)(.4,2.7)(3.2,4.3)(1.2,4.3)(-1.5,7.7)}
\pg{(3.2,4.3)(5.5,10.3)(8.2,12)(11,10)(14.1,12)(17.2,13.7)(21.5,18.7)(25.8,18.7)(27.7,14.7)(25,17)(20.4,14.3)(15.7,11.7)(11,10.3)(7.1,8.7)(3.6,4.3)}
\pr{(27.7,14.7)(28.2,13.7)(30.5,11)(34,11)(34.1,11.8)(28.2,14.3)}
\pg{(34.1,11.8)(36.4,29.3)(38.7,41.7)(41.1,44.3)(44.6,39.3)(48.5,39.3)(43.8,38.3)(39.9,31)(36.4,17.7)}
\pr{(48.5,39.3)(51.6,39.3)(54.7,34.3)(58.6,32)(63.3,27)(66.8,32)(69.2,31)(70.7,12.7)(73.1,-6.3)(75.8,-22.3)(78.9,-30.7)(81.3,-31.3)(84.4,-29)(85.7,-26)(85.2,-26.7)(81.7,-22.3)(77.8,-12.3)(74.3,6)(71.1,24.3)(68.8,31)(64.1,29.3)(61,32.7)(56.3,36.7)(52.4,39.3)}
\pg{(85.7,-26.5)(86.4,-24)(88.7,-20.7)(90.7,-22.3)(91.5,-23.2)(88.7,-23)}
\pr{(91.5,-23.3)(94.6,-25.7)(96.5,-23.9)(95.4,-24)}
\pg{(96.5,-23.9)(97.7,-21.7)(100.4,-24)}
\pr{(100.4,-24)(103.9,-31.3)(105.4,-25)(103.9,-26.7)(100.8,-24)}
\pg{(105.4,-25)(105.9,-23)(109.4,-14)(112.5,-5.7)(114.9,-2.3)(115.8,-2.3)(118.1,1)(121.7,-1.3)(118.9,-4)(115.8,-7.3)(111.7,-14)(107,-22.3)}
\pr{(121.7,-1.3)(125.3,-12.3)(128.8,-8)(132.6,-8)(126.9,-8)}
\pg{(133.2,-8)(137.2,-1.7)(139.2,-4.2)(138,-4)}
\pr{(139.2,-4.2)(140.3,-5.7)(143,-4)(143.3,-3.8)(142.7,-4.7)}
\pg{(143.2,-3.8)(145,4.3)(149.8,10)(153.8,8.3)(155.5,6.9)(153,7.3)(149.8,6)(145.9,1)}
\pr{(155.5,6.9)(157.7,5)(163.3,2.7)(165.3,4.3)(163.3,4.3)(157.7,6.3)}
\pg{(165.3,4.3)(166.4,6)(170.8,15)(173.9,15)(175.9,22.7)(178.7,25.3)(181.5,22.7)(183.5,20.5)(180.7,21.7)(177.1,18.3)(173.9,12.7)(169.6,9.3)(166.4,4.3)}
\pr{(183.5,20.5)(184.7,17.7)(189.4,15.3)(193,14.3)(196.5,7.7)(200.1,1)(203.4,0)(203.4,2.7)(200.1,6)(196.5,11.7)(191.8,16)(184.7,20)}
\addplot[l,color=kline] coordinates {(-5,11)(-2.3,8.3)(.4,2.7)(3.2,4.3)(5.5,10.3)(8.2,12)(11,10)(14.1,12)(17.2,13.7)(21.5,18.7)(25.8,18.7)(28.2,13.7)(30.5,11)(34,11)(36.4,29.3)(38.7,41.7)(41.1,44.3)(44.6,39.3)(48.5,39.3)(51.6,39.3)(54.7,34.3)(58.6,32)(63.3,27)(66.8,32)(69.2,31)(70.7,12.7)(73.1,-6.3)(75.8,-22.3)(78.9,-30.7)(81.3,-31.3)(84.4,-29)(86.4,-24)(88.7,-20.7)(90.7,-22.3)(94.6,-25.7)(97.7,-21.7)(100.4,-24)(103.9,-31.3)(105.9,-23)(109.4,-14)(112.5,-5.7)(114.9,-2.3)(115.8,-2.3)(118.1,1)(121.7,-1.3)(125.3,-12.3)(128.8,-8)(133.2,-8)(137.2,-1.7)(140.3,-5.7)(143,-4)(145,4.3)(149.8,10)(153.8,8.3)(157.7,5)(163.3,2.7)(166.4,6)(170.8,15)(173.9,15)(175.9,22.7)(178.7,25.3)(181.5,22.7)(184.7,17.7)(189.4,15.3)(193,14.3)(196.5,7.7)(200.1,1)(203.4,0)};
\addplot[l,color=ema200] coordinates {(-5,11)(-1.5,7.7)(1.2,4.3)(3.6,4.3)(7.1,8.7)(11,10.3)(15.7,11.7)(20.4,14.3)(25,17)(28.2,14.3)(34,11.7)(36.4,17.7)(39.9,31)(43.8,38.3)(48.5,39.3)(52.4,39.3)(56.3,36.7)(61,32.7)(64.1,29.3)(68.8,31)(71.1,24.3)(74.3,6)(77.8,-12.3)(81.7,-22.3)(85.2,-26.7)(88.7,-23)(95.4,-24)(100.8,-24)(103.9,-26.7)(107,-22.3)(111.7,-14)(115.8,-7.3)(118.9,-4)(121.7,-1.3)(126.9,-8)(133.2,-8)(138,-4)(142.7,-4.7)(145.9,1)(149.8,6)(153,7.3)(157.7,6.3)(163.3,4.3)(166.4,4.3)(169.6,9.3)(173.9,12.7)(177.1,18.3)(180.7,21.7)(184.7,20)(191.8,16)(196.5,11.7)(200.1,6)(203.4,2.7)};
\end{axis}
% ---- RSI
\begin{axis}[panel,at={(2pt,-902pt)},anchor=south west,height=99pt,ymin=18.1,ymax=92.4,xticklabels={},
 ytick={70,50,30},yticklabels={\textcolor{red}{70},{},\textcolor{green!50!black}{30}}]
\addplot[l,color=ema200] coordinates {(-5,54.6)(-4.1,55.9)(-2.3,48.4)(-.9,48.9)(0,37.6)(1,55.9)(1.8,60.1)(3.2,56.4)(4.1,63.4)(7.1,65.1)(10,55.1)(11,55.1)(12.9,62.6)(14.3,65.1)(16,65.4)(18,67.6)(19.8,75.4)(20.8,69.1)(21.9,72.6)(23.1,69.1)(24.6,68.6)(25.8,64.1)(27,50.1)(27.9,50.1)(29.1,56.6)(30.5,55.4)(31.9,52.1)(33.2,57.1)(34,63.4)(35,82.6)(36,77.1)(37,77.1)(37.9,81.6)(39.9,73.4)(41.6,72.6)(44,65.4)(45.3,69.6)(47.3,72.1)(48.9,75.9)(50.8,70.4)(52.5,71.4)(54.7,68.4)(55.9,72.6)(56.7,67.6)(57.9,69.6)(59,67.1)(60,67.9)(61.1,63.9)(62.1,64.6)(64.9,73.6)(66.8,77.1)(68,69.6)(69,66.6)(70,35.1)(71.1,35.9)(75,28.4)(76,30.9)(76.8,29.1)(78.9,27.9)(79.9,38.4)(81.1,35.4)(84,36.4)(85.9,46.6)(87.1,43.4)(88.9,41.4)(91,35.4)(92.8,35.4)(94,30.1)(94.9,30.9)(96.5,40.9)(97.3,42.1)(98.9,40.9)(99.9,30.1)(101,34.6)(102,33.4)(102.9,27.9)(103.9,27.9)(105.9,54.6)(107,46.6)(108,46.6)(109,48.9)(110,47.9)(110.7,52.6)(112.5,54.1)(113.9,54.1)(114.9,48.4)(115.8,50.9)(117,55.9)(118.1,50.9)(120.1,48.4)(120.9,45.9)(122.1,40.1)(123.7,38.4)(125.1,35.9)(126.1,44.6)(127.3,48.6)(129.2,48.4)(130,45.1)(131.2,45.9)(132.2,43.4)(134.4,48.4)(135.2,53.9)(136.1,50.9)(137.2,52.6)(138,45.1)(139.3,47.1)(140.2,39.6)(141.1,47.6)(142.3,49.6)(143.9,59.6)(145.1,60.4)(146.3,55.1)(147,56.6)(148.9,57.9)(150.8,54.6)(152,56.6)(153.8,50.9)(155,52.1)(156.2,50.1)(157.3,51.6)(158.3,49.6)(159.3,52.1)(160.9,50.9)(162.5,51.6)(164.1,53.4)(166,57.6)(169,71.4)(171,72.9)(172.6,65.1)(173.6,63.9)(174.2,65.9)(175.2,79.1)(177.4,65.9)(178.3,67.1)(179.5,65.4)(181.3,61.6)(182.1,55.4)(184.7,58.4)(186.1,57.9)(187.2,62.1)(189.4,60.9)(191,64.6)(192.2,57.1)(193.2,56.4)(194.2,50.9)(196.4,50.9)(197.3,45.9)(198.1,45.4)(199.3,36.6)(200.3,38.4)(201.7,49.1)(202.5,50.9)(203.4,50.9)};
\end{axis}
% ---- logo under MOM
\begin{scope}[opacity=.8]
\fill[green!55!black] (34pt,-919pt) rectangle (38pt,-953pt) (39pt,-919pt) rectangle (43pt,-953pt) (44pt,-919pt) rectangle (48pt,-943pt) (49pt,-919pt) rectangle (53pt,-937pt);
\draw[green!55!black,line width=.6pt] (36pt,-917pt) -- (36pt,-960pt) (41pt,-917pt) -- (41pt,-960pt) (46pt,-917pt) -- (46pt,-960pt) (51pt,-917pt) -- (51pt,-960pt);
\fill[red!85!black] (54pt,-919pt) rectangle (58pt,-953pt) (59pt,-919pt) rectangle (63pt,-953pt) (64pt,-919pt) rectangle (68pt,-929pt) (64pt,-944pt) rectangle (68pt,-953pt) (69pt,-919pt) rectangle (73pt,-929pt);
\draw[red!85!black,line width=.6pt] (56pt,-913pt)--(56pt,-958pt) (61pt,-913pt)--(61pt,-958pt) (66pt,-913pt)--(66pt,-958pt) (71pt,-913pt)--(71pt,-935pt);
\end{scope}
\T{16}{975}{black!75}{19.5}{\textbf{PC}\textcolor{black!50}{Bolsa}}
% ---- MOM area above and below zero
\begin{axis}[hid,at={(2pt,-950.3pt)},anchor=south west,height=46.8pt,ymin=0,ymax=.468]
\addplot[fill=gf,draw=none,fill opacity=.85] table[x=i,y=v] {\mom} \closedcycle;
\end{axis}
\begin{axis}[hid,at={(2pt,-1002pt)},anchor=south west,height=51.7pt,ymin=-.517,ymax=0]
\addplot[fill=rf,draw=none,fill opacity=.95] table[x=i,y=v] {\mom} \closedcycle;
\end{axis}
% ---- MOM
\begin{axis}[panel,at={(2pt,-1002pt)},anchor=south west,height=98.5pt,ymin=-.517,ymax=.468,xticklabels={},
 ytick={.346,0,-.4},yticklabels={\textcolor{red}{0,3},{},\textcolor{green!50!black}{-0,4}}]
\addplot[line width=1pt,color=black!35] coordinates {(-5.7,0)(224.9,0)};
\addplot[line width=1pt,color=kline!70] coordinates {(-5,0)(203.4,0)};
\addplot[l,color=ema200] table[x=i,y=v] {\mom};
\end{axis}
% ---- separators, frame and value tags
\foreach \y in {602,703,803,903,1003} {\draw[sep,line width=1.8pt] (2pt,-\y pt) -- (1037pt,-\y pt);}
\draw[sep,line width=.9pt] (1037pt,-602pt) -- (1037pt,-1003pt);
\draw[sep,line width=.9pt] (2pt,-120pt) -- (2pt,-1003pt);
\draw[black,line width=1pt] (986pt,-135pt) -- (986pt,-1003pt);
\draw[black,line width=.8pt] (2pt,-584pt) -- (986pt,-584pt);
\fill[cg] (986pt,-355pt) rectangle (1031pt,-369pt);
\T{989}{362}{white}{10}{\textbf{1,5700}}
\fill[black] (987pt,-650pt) rectangle (1034pt,-664pt);
\T{989}{657}{white}{10}{\textbf{46,101}}
\fill[black] (987pt,-852pt) rectangle (1034pt,-866pt);
\T{989}{859}{white}{10}{\textbf{51,216}}
\fill[black] (987pt,-947pt) rectangle (1034pt,-961pt);
\T{989}{954}{white}{10}{\textbf{-0,028}}
\T{20}{612}{black}{10.2}{\textbf{STO (14,3,5)\hspace{10pt}46,10}}
\T{19}{712}{black}{10.2}{\textbf{MACD (12,26,9)\hspace{10pt}-0,00}}
\T{19}{812}{black}{10.2}{\textbf{RSI (14)\hspace{10pt}51,21}}
\T{19}{912}{black}{10.2}{\textbf{MOM (10)\hspace{10pt}-0,02}}
% ---- bottom bar
\fill[conf,rounded corners=2pt] (2pt,-1006pt) rectangle (62pt,-1037pt);
\T[center]{32}{1021.5}{white}{11}{\textbf{CONFG.}}
\T[center]{86}{1020}{black}{12}{\textbf{BI}}
\T[center]{117}{1021}{black!60}{7}{\sym ▼}
\T[center]{152}{1021}{black}{12}{All}
\T[center]{184}{1021}{black}{12}{10A}
\T[center]{216}{1021}{black}{12}{5A}
\T[center]{248}{1021}{black}{12}{2A}
\T[center]{280}{1021}{black}{12}{1A}
\T[center]{312}{1021}{black}{12}{A}
\T[center]{344}{1021}{black}{12}{6M}
\T[center]{376}{1021}{black}{12}{60D}
\T[center]{408}{1021}{black}{12}{30D}
\T[center]{440}{1021}{black}{12}{15D}
\T[center]{472}{1021}{black}{12}{5D}
\T[center]{504}{1021}{black}{12}{2D}
\T[center]{536}{1021}{black}{12}{1D}
\T[east]{1035}{1022}{black}{18}{\textbf{5.126.116}}
\end{tikzpicture}
\end{document}
